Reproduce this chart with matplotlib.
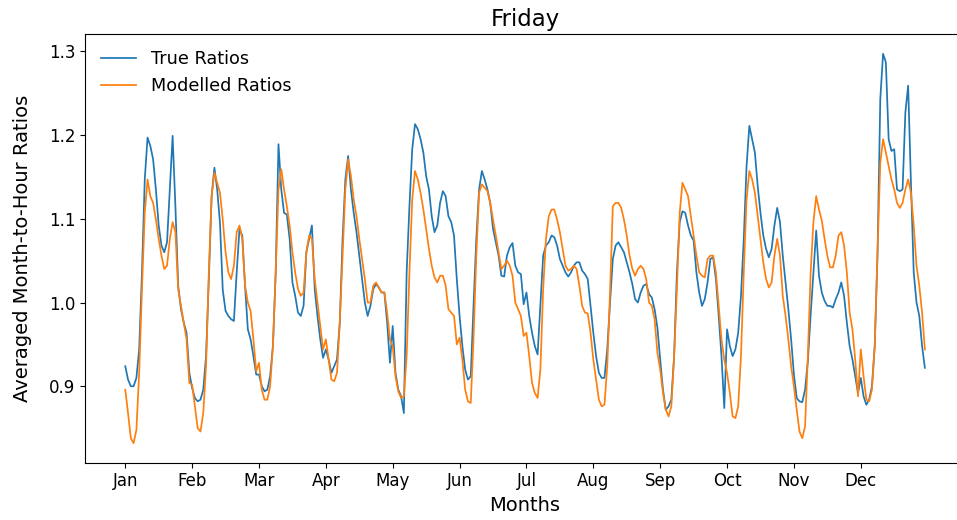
import numpy as np
import matplotlib
matplotlib.use("Agg")
import matplotlib.pyplot as plt

months = ["Jan", "Feb", "Mar", "Apr", "May", "Jun",
          "Jul", "Aug", "Sep", "Oct", "Nov", "Dec"]

# hourly ratios, 24 values per month
true_ratios = [
    0.924, 0.908, 0.900, 0.900, 0.910, 0.944, 1.036, 1.147, 1.197, 1.187, 1.171, 1.135, 1.092, 1.068, 1.060, 1.072, 1.135, 1.199, 1.115, 1.020, 0.992, 0.976, 0.964, 0.916,
    0.898, 0.886, 0.882, 0.884, 0.896, 0.936, 1.028, 1.127, 1.161, 1.135, 1.095, 1.015, 0.990, 0.984, 0.980, 0.978, 1.036, 1.088, 1.080, 1.020, 0.968, 0.956, 0.936, 0.914,
    0.914, 0.900, 0.894, 0.896, 0.912, 0.948, 1.036, 1.189, 1.135, 1.107, 1.105, 1.076, 1.024, 1.008, 0.988, 0.984, 0.996, 1.060, 1.076, 1.092, 1.016, 0.984, 0.956, 0.934,
    0.944, 0.932, 0.916, 0.924, 0.932, 0.976, 1.076, 1.147, 1.175, 1.135, 1.107, 1.084, 1.056, 1.028, 1.000, 0.984, 0.996, 1.016, 1.022, 1.018, 1.012, 1.012, 0.976, 0.928,
    0.972, 0.916, 0.896, 0.888, 0.868, 1.036, 1.115, 1.183, 1.213, 1.207, 1.195, 1.179, 1.151, 1.135, 1.103, 1.084, 1.092, 1.119, 1.133, 1.127, 1.103, 1.096, 1.080, 1.028,
    0.984, 0.948, 0.920, 0.908, 0.912, 0.996, 1.076, 1.135, 1.157, 1.147, 1.135, 1.119, 1.088, 1.072, 1.056, 1.032, 1.031, 1.056, 1.066, 1.071, 1.044, 1.036, 1.034, 0.998,
    1.012, 0.984, 0.964, 0.948, 0.938, 0.996, 1.056, 1.068, 1.072, 1.080, 1.078, 1.068, 1.052, 1.044, 1.036, 1.031, 1.036, 1.044, 1.048, 1.048, 1.038, 1.034, 1.028, 0.996,
    0.964, 0.936, 0.916, 0.910, 0.910, 0.944, 1.000, 1.052, 1.068, 1.072, 1.066, 1.060, 1.048, 1.036, 1.022, 1.004, 1.000, 1.012, 1.020, 1.022, 1.010, 1.006, 0.992, 0.970,
    0.932, 0.896, 0.872, 0.876, 0.884, 0.936, 1.036, 1.096, 1.109, 1.107, 1.092, 1.080, 1.074, 1.036, 1.012, 0.996, 1.004, 1.024, 1.052, 1.054, 1.028, 0.984, 0.936, 0.874,
    0.968, 0.948, 0.936, 0.944, 0.964, 1.008, 1.076, 1.163, 1.211, 1.195, 1.179, 1.139, 1.107, 1.080, 1.064, 1.054, 1.064, 1.092, 1.113, 1.096, 1.056, 1.024, 0.992, 0.956,
    0.914, 0.886, 0.882, 0.881, 0.896, 0.930, 0.985, 1.035, 1.086, 1.032, 1.012, 1.002, 0.996, 0.996, 0.994, 1.004, 1.012, 1.024, 1.008, 0.976, 0.948, 0.932, 0.912, 0.892,
    0.910, 0.888, 0.878, 0.884, 0.900, 0.948, 1.056, 1.243, 1.297, 1.287, 1.195, 1.181, 1.183, 1.135, 1.133, 1.135, 1.227, 1.259, 1.143, 1.036, 1.000, 0.984, 0.948, 0.922,
]

modelled_ratios = [
    0.896, 0.868, 0.838, 0.832, 0.848, 0.916, 1.016, 1.107, 1.147, 1.127, 1.119, 1.099, 1.076, 1.056, 1.040, 1.044, 1.076, 1.096, 1.084, 1.016, 0.996, 0.976, 0.956, 0.904,
    0.902, 0.876, 0.850, 0.846, 0.868, 0.924, 1.036, 1.127, 1.155, 1.143, 1.131, 1.099, 1.060, 1.036, 1.028, 1.044, 1.084, 1.092, 1.076, 1.020, 1.000, 0.990, 0.956, 0.918,
    0.928, 0.896, 0.884, 0.884, 0.900, 0.948, 1.036, 1.135, 1.159, 1.135, 1.115, 1.092, 1.060, 1.036, 1.016, 1.008, 1.012, 1.060, 1.080, 1.076, 1.028, 1.000, 0.972, 0.944,
    0.956, 0.932, 0.908, 0.906, 0.916, 0.976, 1.056, 1.135, 1.171, 1.151, 1.123, 1.103, 1.076, 1.052, 1.028, 1.000, 1.000, 1.020, 1.024, 1.018, 1.012, 1.012, 0.988, 0.956,
    0.948, 0.912, 0.894, 0.886, 0.888, 0.936, 1.036, 1.123, 1.157, 1.147, 1.131, 1.111, 1.088, 1.064, 1.044, 1.030, 1.024, 1.032, 1.032, 1.020, 0.992, 0.988, 0.984, 0.950,
    0.958, 0.932, 0.896, 0.882, 0.880, 0.956, 1.056, 1.131, 1.141, 1.137, 1.133, 1.119, 1.099, 1.080, 1.060, 1.040, 1.044, 1.050, 1.044, 1.032, 1.000, 0.992, 0.984, 0.960,
    0.964, 0.936, 0.904, 0.892, 0.886, 0.920, 1.016, 1.076, 1.103, 1.111, 1.111, 1.099, 1.084, 1.064, 1.044, 1.038, 1.040, 1.044, 1.040, 1.020, 0.996, 0.988, 0.987, 0.964,
    0.932, 0.908, 0.884, 0.876, 0.878, 0.924, 1.012, 1.115, 1.119, 1.119, 1.113, 1.099, 1.080, 1.056, 1.040, 1.032, 1.040, 1.044, 1.040, 1.028, 1.000, 0.996, 0.980, 0.940,
    0.920, 0.892, 0.872, 0.864, 0.876, 0.936, 1.016, 1.107, 1.143, 1.135, 1.127, 1.103, 1.080, 1.056, 1.036, 1.032, 1.030, 1.052, 1.056, 1.056, 1.036, 0.996, 0.956, 0.932,
    0.916, 0.892, 0.864, 0.862, 0.876, 0.936, 1.036, 1.123, 1.157, 1.147, 1.131, 1.103, 1.076, 1.048, 1.028, 1.018, 1.024, 1.056, 1.076, 1.056, 1.008, 0.984, 0.956, 0.924,
    0.900, 0.872, 0.846, 0.838, 0.852, 0.936, 1.036, 1.096, 1.127, 1.111, 1.098, 1.076, 1.056, 1.042, 1.042, 1.056, 1.080, 1.084, 1.068, 1.036, 0.988, 0.968, 0.932, 0.888,
    0.944, 0.912, 0.884, 0.882, 0.896, 0.948, 1.060, 1.167, 1.195, 1.179, 1.163, 1.147, 1.135, 1.119, 1.113, 1.119, 1.135, 1.147, 1.131, 1.092, 1.044, 1.020, 0.988, 0.944,
]

hours = np.arange(len(true_ratios))

fig = plt.figure(figsize=(9.57, 5.2), dpi=100)
ax = fig.add_axes([0.0891, 0.1102, 0.9191, 0.8238])

ax.plot(hours, true_ratios, color="#1f77b4", linewidth=1.25, label="True Ratios")
ax.plot(hours, modelled_ratios, color="#ff7f0e", linewidth=1.25, label="Modelled Ratios")

ax.set_xticks(np.arange(0, len(true_ratios), 24))
ax.set_xticklabels(months)
ax.set_yticks([0.9, 1.0, 1.1, 1.2, 1.3])
ax.tick_params(labelsize=12)

ax.set_xlabel("Months", fontsize=14)
ax.set_ylabel("Averaged Month-to-Hour Ratios", fontsize=14, labelpad=12)
ax.set_title("Friday", fontsize=16.5)
ax.legend(loc="upper left", frameon=False, fontsize=12.7)

fig.savefig("out.png", dpi=100)
